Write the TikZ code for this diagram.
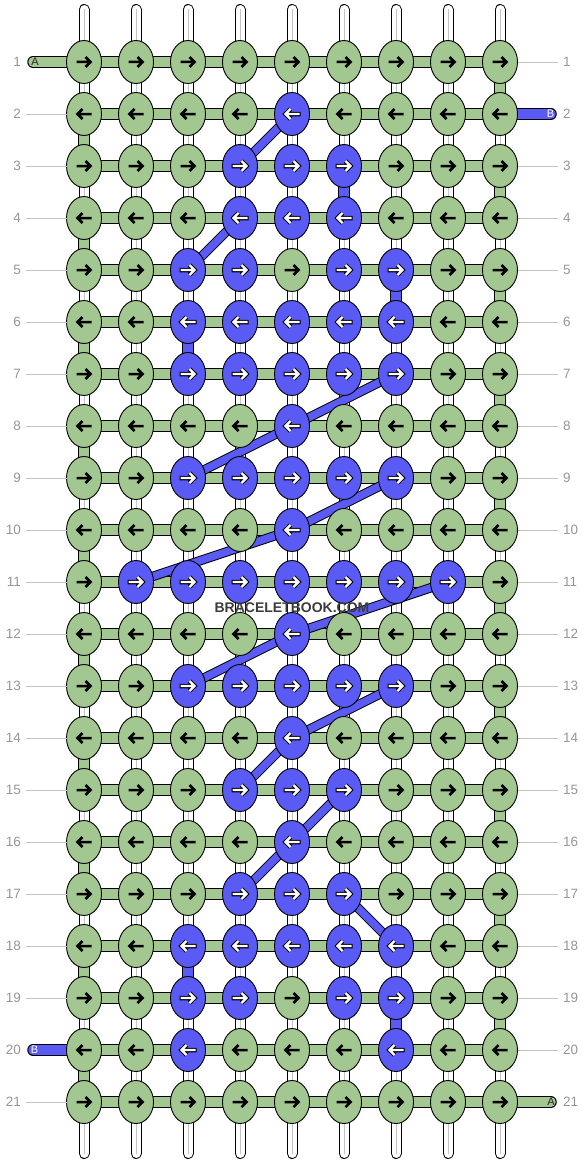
\documentclass[tikz,border=0pt]{standalone}
\usepackage{fontspec}
\setmainfont{Liberation Sans}
\usetikzlibrary{shapes.geometric}
\definecolor{kgreen}{RGB}{163,199,145}
\definecolor{kblue}{RGB}{90,90,245}
\definecolor{labgray}{RGB}{150,150,150}
\definecolor{linegray}{RGB}{195,195,195}
\definecolor{wmark}{RGB}{60,60,60}
\pgfdeclarelayer{strands}
\pgfdeclarelayer{bars}
\pgfdeclarelayer{diag}
\pgfsetlayers{strands,bars,diag,main}
\tikzset{
 knot/.style={ellipse, draw=black, line width=0.9pt, minimum width=35pt, minimum height=43pt, inner sep=0pt, outer sep=0pt},
 gknot/.style={knot, fill=kgreen},
 bknot/.style={knot, fill=kblue},
 arrpath/.style={line cap=butt, line join=miter},
 rowlab/.style={text=labgray, font=\fontsize{13.5}{13.5}\selectfont, inner sep=0pt},
 tailtxt/.style={font=\fontsize{11}{11}\selectfont, inner sep=0pt},
 labline/.style={draw=linegray, line width=0.8pt, shorten >=5pt},
 barout/.style={draw=black, line width=11.5pt},
 greenbar/.style={draw=kgreen, line width=9.5pt},
 bluebar/.style={draw=kblue, line width=9.5pt},
 diagout/.style={draw=black, line width=9.5pt},
 diagin/.style={draw=kblue, line width=7.5pt},
 strandout/.style={draw=black, line width=11pt, line cap=round},
 strandin/.style={draw=white, line width=9pt, line cap=round},
 strandmid/.style={draw=linegray, line width=0.8pt},
 pics/barr/.style={code={\draw[arrpath, line width=2.5pt, black] (-7.5,0) -- (6,0) (1.5,-5) -- (6.5,0) -- (1.5,5);}},
 pics/warr/.style={code={\draw[arrpath, line width=4.5pt, black] (-8.5,0) -- (6,0) (1.5,-5) -- (6.5,0) -- (1.5,5);
   \draw[arrpath, line width=2.3pt, white] (-7.5,0) -- (6,0) (1.5,-5) -- (6.5,0) -- (1.5,5);}}
}
\def\pat{{0,0,0,0,0,0,0,0,0,
0,0,0,0,1,0,0,0,0,
0,0,0,1,1,1,0,0,0,
0,0,0,1,1,1,0,0,0,
0,0,1,1,0,1,1,0,0,
0,0,1,1,1,1,1,0,0,
0,0,1,1,1,1,1,0,0,
0,0,0,0,1,0,0,0,0,
0,0,1,1,1,1,1,0,0,
0,0,0,0,1,0,0,0,0,
0,1,1,1,1,1,1,1,0,
0,0,0,0,1,0,0,0,0,
0,0,1,1,1,1,1,0,0,
0,0,0,0,1,0,0,0,0,
0,0,0,1,1,1,0,0,0,
0,0,0,0,1,0,0,0,0,
0,0,0,1,1,1,0,0,0,
0,0,1,1,1,1,1,0,0,
0,0,1,1,0,1,1,0,0,
0,0,1,0,0,0,1,0,0,
0,0,0,0,0,0,0,0,0}}
\begin{document}
\begin{tikzpicture}[x=1pt,y=-1pt]
\useasboundingbox (0,0) rectangle (584,1164);
% knots
\foreach \r in {1,...,21}{
 \foreach \c in {1,...,9}{
  \pgfmathtruncatemacro\idx{(\r-1)*9+\c-1}
  \pgfmathtruncatemacro\isb{\pat[\idx]}
  \pgfmathsetmacro\kx{32+52*\c}
  \pgfmathsetmacro\ky{10+52*\r}
  \ifnum\isb=1
   \node[bknot] (k-\r-\c) at (\kx,\ky) {};
   \ifodd\r \pic at (\kx,\ky) {warr}; \else \pic[xscale=-1] at (\kx,\ky) {warr}; \fi
  \else
   \node[gknot] (k-\r-\c) at (\kx,\ky) {};
   \ifodd\r \pic at (\kx,\ky) {barr}; \else \pic[xscale=-1] at (\kx,\ky) {barr}; \fi
  \fi
 }
}
% row labels
\foreach \r in {1,...,21}{
 \pgfmathsetmacro\ky{10+52*\r}
 \node[rowlab, anchor=east] (ll-\r) at (21,\ky) {\r};
 \node[rowlab, anchor=west] (rl-\r) at (563,\ky) {\r};
}
\foreach \r in {2,...,19,21}{
 \draw[labline] (k-\r-1.west) -- (k-\r-1.west -| ll-\r.east);
}
\foreach \r in {1,3,4,...,20}{
 \draw[labline] (k-\r-9.east) -- (k-\r-9.east -| rl-\r.west);
}
% tails
\coordinate (tA1) at (33,62);
\coordinate (tB2) at (551,114);
\coordinate (tB20) at (33,1050);
\coordinate (tA21) at (551,1102);
\node[tailtxt, text=black!85] (lA1) at (35,62) {A};
\node[tailtxt, text=white] (lB2) at (550.5,114) {B};
\node[tailtxt, text=white] (lB20) at (34.5,1050) {B};
\node[tailtxt, text=black!85] (lA21) at (551,1102) {A};
% watermark
\node[font=\bfseries\fontsize{14}{14}\selectfont, text=wmark, inner sep=0pt] (wm) at (292,607.5) {BRACELETBOOK.COM};
% white base strands
\begin{pgfonlayer}{strands}
\foreach \c in {1,...,9}{
 \pgfmathsetmacro\kx{32+52*\c}
 \coordinate (st-\c) at (\kx,9.5);
 \coordinate (sb-\c) at (\kx,1153.5);
 \draw[strandout] (st-\c) -- (sb-\c);
 \draw[strandin] (st-\c) -- (sb-\c);
 \draw[strandmid] ([xshift=0.8pt]st-\c) -- ([xshift=0.8pt]sb-\c);
}
\end{pgfonlayer}
% bars
\begin{pgfonlayer}{bars}
\foreach \r in {1,...,21}{
 \draw[barout] (k-\r-1.center) -- (k-\r-9.center);
 \draw[greenbar] (k-\r-1.center) -- (k-\r-9.center);
}
\foreach \r in {1,...,20}{
 \pgfmathtruncatemacro\rn{\r+1}
 \ifodd\r \def\cc{9}\else\def\cc{1}\fi
 \draw[barout] (k-\r-\cc.center) -- (k-\rn-\cc.center);
 \draw[greenbar] (k-\r-\cc.center) -- (k-\rn-\cc.center);
}
\foreach \ra/\rb/\c in {3/4/6,5/6/7,6/7/3,18/19/3,19/20/7}{
 \draw[barout] (k-\ra-\c.center) -- (k-\rb-\c.center);
 \draw[bluebar] (k-\ra-\c.center) -- (k-\rb-\c.center);
}
\draw[barout, line cap=round] (tA1) -- (k-1-1.center);
\draw[greenbar, line cap=round] (tA1) -- (k-1-1.center);
\draw[barout, line cap=round] (tA21) -- (k-21-9.center);
\draw[greenbar, line cap=round] (tA21) -- (k-21-9.center);
\draw[barout, line cap=round] (tB2) -- (k-2-9.center);
\draw[bluebar, line cap=round] (tB2) -- (k-2-9.center);
\draw[barout, line cap=round] (tB20) -- (k-20-1.center);
\draw[bluebar, line cap=round] (tB20) -- (k-20-1.center);
\end{pgfonlayer}
% diagonal blue strands
\begin{pgfonlayer}{diag}
\foreach \ra/\ca/\rb/\cb in {2/5/3/4,4/4/5/3,7/7/8/5,8/5/9/3,9/7/10/5,10/5/11/2,11/8/12/5,12/5/13/3,13/7/14/5,14/5/15/4,15/6/16/5,16/5/17/4,17/6/18/7}{
 \draw[diagout] (k-\ra-\ca.center) -- (k-\rb-\cb.center);
 \draw[diagin] (k-\ra-\ca.center) -- (k-\rb-\cb.center);
}
\end{pgfonlayer}
\end{tikzpicture}
\end{document}
